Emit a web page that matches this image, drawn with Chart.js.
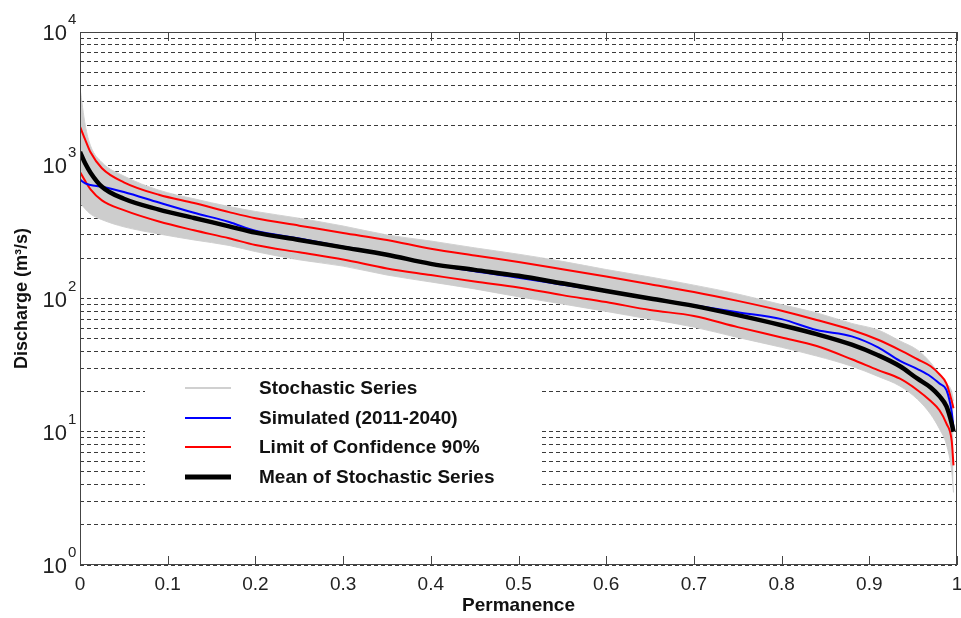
<!DOCTYPE html>
<html lang="en">
<head>
<meta charset="utf-8">
<title>Permanence</title>
<script src="https://cdn.jsdelivr.net/npm/chart.js@4.4.1/dist/chart.umd.min.js"></script>
<style>
    html, body { margin: 0; padding: 0; background: #ffffff; }
    #contenedor { position: relative; width: 961px; height: 618px; }
</style>
</head>
<body>
<div id="contenedor"><canvas id="chartPermanencia"></canvas></div>
<script>
// ===== CURVA DE PERMANENCIA - DATOS =====

// Eje x (permanencia)
const permanencia = [0, 0.006, 0.012, 0.025, 0.05, 0.09, 0.13, 0.17, 0.2, 0.25, 0.3, 0.35, 0.4, 0.45, 0.5,
    0.55, 0.6, 0.65, 0.7, 0.75, 0.8, 0.84, 0.88, 0.91, 0.935, 0.955, 0.97, 0.98, 0.988, 0.994, 0.996];

// Banda de series estocasticas (envolventes)
const estocasticaMax = [3800, 2000, 1400, 1050, 830, 650, 560, 490, 450, 400, 350, 300, 270, 240, 215,
    190, 165, 145, 126, 108, 90, 78, 65, 58, 48, 41, 33, 27, 23, 20, 17];
const estocasticaMin = [520, 470, 430, 390, 345, 305, 275, 250, 225, 195, 175, 150, 133, 118, 103,
    91, 80, 70, 61, 51, 43, 37, 31, 26, 22, 17.5, 13.5, 10.5, 8, 5, 3.5];

// Simulada (2011-2040)
const simulada = [780, 730, 712, 690, 630, 525, 440, 375, 322, 282, 245, 215, 182, 160, 143,
    127, 113, 101, 89, 79, 70, 58, 52, 43, 34, 29.5, 26, 23, 20.5, 14, 10.7];

// Limites de confianza 90%
const limiteSuperior = [1950, 1550, 1250, 950, 745, 600, 520, 445, 400, 352, 310, 275, 236, 210, 188,
    166, 146, 128, 112, 96, 81, 69, 58, 49, 41, 35, 31, 27, 23, 17, 15];
const limiteInferior = [890, 760, 660, 545, 460, 378, 325, 283, 252, 222, 196, 168, 150, 134, 121,
    106, 94, 82, 74, 61, 51, 44, 35, 29, 25, 20.5, 17, 14.5, 11.5, 8.5, 5.6];

// Media de las series estocasticas
const mediaEstocastica = [1260, 1030, 880, 690, 560, 465, 402, 348, 312, 275, 242, 213, 182, 164, 148,
    130, 114, 100, 88, 75, 63, 54, 45, 37.5, 31, 25, 21.5, 18.5, 15.5, 11.5, 10];

// Ticks
const ticksX = [0, 0.1, 0.2, 0.3, 0.4, 0.5, 0.6, 0.7, 0.8, 0.9, 1];
const potenciasY = [1, 10, 100, 1000, 10000];
const ticksY = [1, 2, 3, 4, 5, 6, 7, 8, 9,
    10, 20, 30, 40, 50, 60, 70, 80, 90,
    100, 200, 300, 400, 500, 600, 700, 800, 900,
    1000, 2000, 3000, 4000, 5000, 6000, 7000, 8000, 9000, 10000];

// Leyenda
const etiquetasLeyenda = ['Stochastic Series', 'Simulated (2011-2040)', 'Limit of Confidence 90%', 'Mean of Stochastic Series'];

const fuente = "'Liberation Sans', Arial, Helvetica, sans-serif";

function pares(valores) {
    return permanencia.map((p, i) => ({ x: p, y: valores[i] }));
}

// Marco, ticks interiores, etiquetas 10^n y leyenda
const pluginMarco = {
    id: 'marco',
    afterDatasetsDraw(chart) {
        const { ctx, chartArea: a, scales: { x, y } } = chart;
        ctx.save();

        // Leyenda (caja blanca que tapa la grilla)
        ctx.fillStyle = '#ffffff';
        ctx.fillRect(145, 378, 395, 112);
        const estilos = [
            { color: '#d0d0d0', ancho: 2 },
            { color: '#0000ff', ancho: 2 },
            { color: '#ff0000', ancho: 2 },
            { color: '#000000', ancho: 5 }
        ];
        const filas = [388, 418, 447, 477];
        ctx.font = 'bold 19px ' + fuente;
        ctx.textAlign = 'left';
        ctx.textBaseline = 'middle';
        etiquetasLeyenda.forEach((txt, i) => {
            ctx.strokeStyle = estilos[i].color;
            ctx.lineWidth = estilos[i].ancho;
            ctx.beginPath();
            ctx.moveTo(185, filas[i]);
            ctx.lineTo(231, filas[i]);
            ctx.stroke();
            ctx.fillStyle = '#111111';
            ctx.fillText(txt, 259, filas[i] + 1);
        });

        // Marco
        ctx.strokeStyle = '#444444';
        ctx.lineWidth = 1;
        ctx.strokeRect(a.left + 0.5, a.top + 0.5, a.right - a.left - 1, a.bottom - a.top - 1);

        // Ticks del eje x (hacia adentro, abajo y arriba)
        ticksX.forEach(v => {
            const px = Math.round(x.getPixelForValue(v)) + 0.5;
            ctx.beginPath();
            ctx.moveTo(px, a.bottom);
            ctx.lineTo(px, a.bottom - 9);
            ctx.moveTo(px, a.top);
            ctx.lineTo(px, a.top + 9);
            ctx.stroke();
        });

        // Etiquetas del eje y como 10 con exponente
        ctx.fillStyle = '#222222';
        potenciasY.forEach(v => {
            const py = y.getPixelForValue(v);
            const exp = Math.round(Math.log10(v));
            ctx.font = '22px ' + fuente;
            ctx.textAlign = 'right';
            ctx.textBaseline = 'alphabetic';
            ctx.fillText('10', 67, py + 8);
            ctx.font = '15px ' + fuente;
            ctx.textAlign = 'left';
            ctx.fillText(String(exp), 68, py - 8);
        });

        ctx.restore();
    }
};

document.addEventListener('DOMContentLoaded', function() {
    const ctxPermanencia = document.getElementById('chartPermanencia');
    ctxPermanencia.width = 961;
    ctxPermanencia.height = 618;

    new Chart(ctxPermanencia, {
        type: 'line',
        data: {
            datasets: [
                {
                    label: 'Mean of Stochastic Series',
                    data: pares(mediaEstocastica),
                    borderColor: '#000000',
                    borderWidth: 4.5,
                    order: 1
                },
                {
                    label: 'Simulated (2011-2040)',
                    data: pares(simulada),
                    borderColor: '#0000ff',
                    borderWidth: 2,
                    order: 2
                },
                {
                    label: 'Limit of Confidence 90% (sup)',
                    data: pares(limiteSuperior),
                    borderColor: '#ff0000',
                    borderWidth: 2,
                    order: 3
                },
                {
                    label: 'Limit of Confidence 90% (inf)',
                    data: pares(limiteInferior),
                    borderColor: '#ff0000',
                    borderWidth: 2,
                    order: 3
                },
                {
                    label: 'Stochastic Series (max)',
                    data: pares(estocasticaMax),
                    borderColor: '#d2d2d2',
                    backgroundColor: '#cdcdcd',
                    borderWidth: 1,
                    fill: '+1',
                    order: 5
                },
                {
                    label: 'Stochastic Series (min)',
                    data: pares(estocasticaMin),
                    borderColor: '#d2d2d2',
                    borderWidth: 1,
                    order: 5
                }
            ]
        },
        options: {
            responsive: false,
            animation: false,
            events: [],
            elements: {
                point: { radius: 0 },
                line: { tension: 0.2, cubicInterpolationMode: 'monotone' }
            },
            layout: {
                padding: { top: 32, right: 4, left: 0, bottom: 0 }
            },
            plugins: {
                legend: { display: false },
                tooltip: { enabled: false }
            },
            scales: {
                x: {
                    type: 'linear',
                    min: 0,
                    max: 1,
                    afterBuildTicks: function(scale) {
                        scale.ticks = ticksX.map(v => ({ value: v }));
                    },
                    afterFit: function(scale) {
                        scale.height = 53;
                        scale.paddingLeft = 0;
                        scale.paddingRight = 0;
                    },
                    grid: { display: false, drawTicks: false },
                    border: { display: false },
                    ticks: {
                        padding: 8,
                        color: '#222222',
                        font: { family: fuente, size: 19 },
                        maxRotation: 0,
                        autoSkip: false,
                        callback: function(v) {
                            return (v === 0 || v === 1) ? String(v) : v.toFixed(1);
                        }
                    },
                    title: {
                        display: true,
                        text: 'Permanence',
                        color: '#111111',
                        font: { family: fuente, size: 19, weight: 'bold' },
                        padding: { top: 0, bottom: 1 }
                    }
                },
                y: {
                    type: 'logarithmic',
                    min: 1,
                    max: 10000,
                    afterBuildTicks: function(scale) {
                        scale.ticks = ticksY.map(v => ({ value: v }));
                    },
                    afterFit: function(scale) {
                        scale.width = 80;
                    },
                    grid: {
                        color: '#3a3a3a',
                        lineWidth: 1,
                        drawTicks: false
                    },
                    border: { display: false, dash: [4, 3] },
                    ticks: { display: false },
                    title: {
                        display: true,
                        text: 'Discharge (m³/s)',
                        color: '#111111',
                        font: { family: fuente, size: 18, weight: 'bold' },
                        padding: { top: 11, bottom: 0 }
                    }
                }
            }
        },
        plugins: [pluginMarco]
    });
});
</script>
</body>
</html>
